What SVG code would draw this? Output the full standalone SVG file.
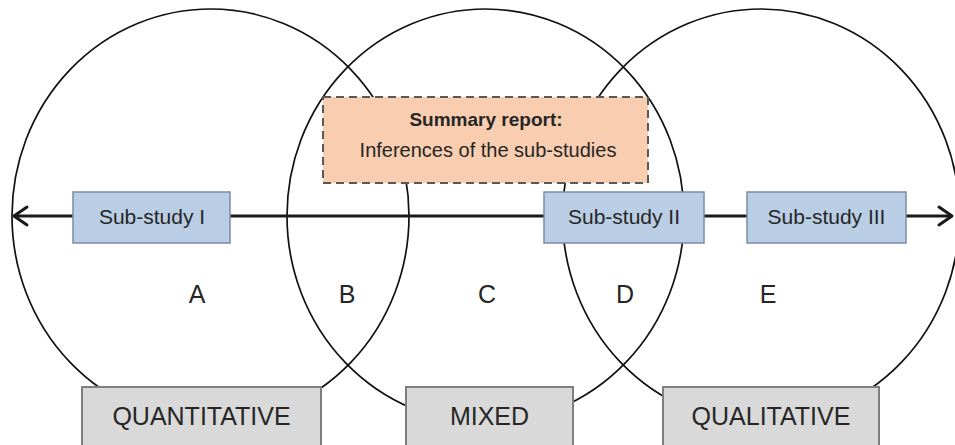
<svg xmlns="http://www.w3.org/2000/svg" width="955" height="445" viewBox="0 0 955 445">
<defs>
<style>
.circ{fill:none;stroke:#111;stroke-width:1.7}
.conn{stroke:#1a1a1a;stroke-width:3;fill:none}
.head{stroke:#1a1a1a;stroke-width:3;fill:none;stroke-linecap:round;stroke-linejoin:round}
.study{fill:#b9cde5;stroke:#7b8ca4;stroke-width:1.5}
.cat{fill:#d9d9d9;stroke:#7f7f7f;stroke-width:2}
.summary{fill:#f9cdaf;stroke:#595959;stroke-width:2;stroke-dasharray:8 5}
text{font-family:"Liberation Sans",Arial,sans-serif;fill:#262626;text-anchor:middle}
.lbl{font-size:20px}
.sub{font-size:21px}
.big{font-size:25px}
.bold{font-size:19px;font-weight:bold}
</style>
</defs>
<rect width="955" height="445" fill="#fff"/>
<g id="sets">
<ellipse id="set-quant" class="circ" cx="210.5" cy="216" rx="198.5" ry="207"/>
<ellipse id="set-mixed" class="circ" cx="485.5" cy="216" rx="198.5" ry="207"/>
<ellipse id="set-qual" class="circ" cx="761" cy="216" rx="198.5" ry="207"/>
</g>
<g id="connectors">
<line class="conn" x1="15" y1="216" x2="951" y2="216"/>
<polyline class="head" points="27,207 14,216 27,225"/>
<polyline class="head" points="939,207 952,216 939,225"/>
</g>
<g id="region-labels">
<text class="big" x="197" y="303">A</text>
<text class="big" x="347" y="303">B</text>
<text class="big" x="487" y="303">C</text>
<text class="big" x="625" y="303">D</text>
<text class="big" x="768" y="303">E</text>
</g>
<g id="summary">
<rect class="summary" x="323" y="97" width="325" height="86"/>
<text class="bold" x="486" y="126">Summary report:</text>
<text class="lbl" x="488" y="157">Inferences of the sub-studies</text>
</g>
<g id="substudy1">
<rect class="study" x="73" y="192" width="157" height="51"/>
<text class="sub" x="152" y="224">Sub-study I</text>
</g>
<g id="substudy2">
<rect class="study" x="544" y="192" width="160" height="51"/>
<text class="sub" x="624" y="224">Sub-study II</text>
</g>
<g id="substudy3">
<rect class="study" x="747" y="192" width="159" height="51"/>
<text class="sub" x="826.5" y="224">Sub-study III</text>
</g>
<g id="quantitative">
<rect class="cat" x="82" y="387" width="239" height="75"/>
<text class="big" x="201.5" y="425">QUANTITATIVE</text>
</g>
<g id="mixed">
<rect class="cat" x="406" y="387" width="167" height="75"/>
<text class="big" x="489.5" y="425">MIXED</text>
</g>
<g id="qualitative">
<rect class="cat" x="663" y="387" width="216" height="75"/>
<text class="big" x="771" y="425">QUALITATIVE</text>
</g>
</svg>
